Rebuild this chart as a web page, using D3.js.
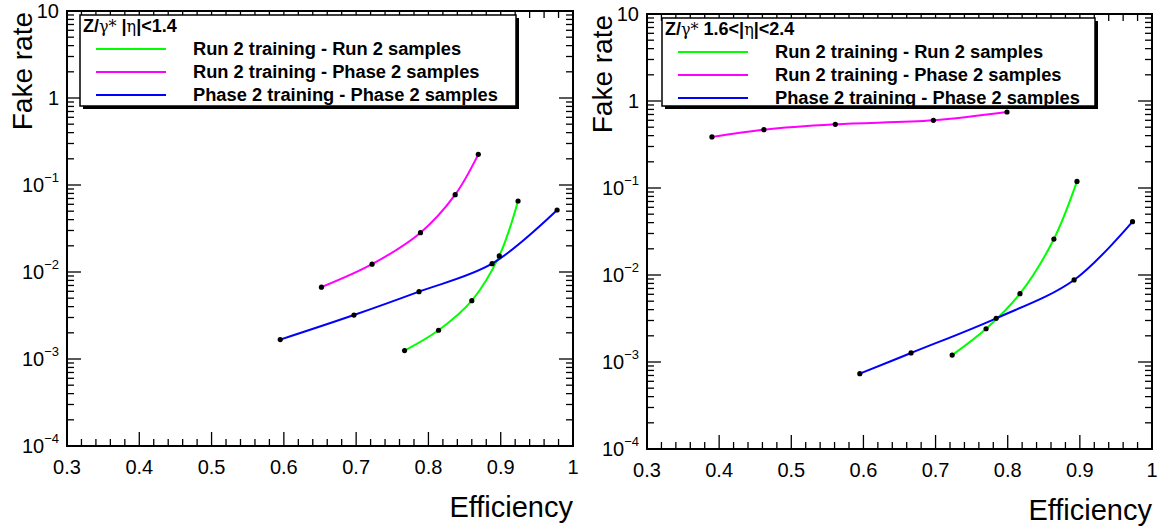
<!DOCTYPE html>
<html>
<head>
<meta charset="utf-8">
<script src="https://cdn.jsdelivr.net/npm/d3@7"></script>
<style>
  html, body { margin: 0; padding: 0; background: #fff; }
  svg { display: block; font-family: "Liberation Sans", Arial, Helvetica, sans-serif; }
</style>
</head>
<body>
<svg id="chart" width="1163" height="532"></svg>
<script>
// ---------- data ----------
const xTickValues = [0.3, 0.4, 0.5, 0.6, 0.7, 0.8, 0.9, 1.0];
const xTickLabels = ["0.3", "0.4", "0.5", "0.6", "0.7", "0.8", "0.9", "1"];
const yTickExponents = [-4, -3, -2, -1, 0, 1];
const xTitle = "Efficiency";
const yTitle = "Fake rate";

const seriesNames = [
  "Run 2 training - Run 2 samples",
  "Run 2 training - Phase 2 samples",
  "Phase 2 training - Phase 2 samples"
];
const seriesColors = ["#00ff00", "#ff00ff", "#0000ff"];

// Panel 1: |eta| < 1.4
const barrelRun2Run2Eff   = [0.767, 0.814, 0.860, 0.898, 0.924];
const barrelRun2Run2Fake  = [1.25e-3, 2.14e-3, 4.68e-3, 0.0153, 0.0655];
const barrelRun2Ph2Eff    = [0.652, 0.722, 0.789, 0.837, 0.869];
const barrelRun2Ph2Fake   = [6.7e-3, 0.0123, 0.0283, 0.0774, 0.225];
const barrelPh2Ph2Eff     = [0.595, 0.697, 0.787, 0.888, 0.978];
const barrelPh2Ph2Fake    = [1.67e-3, 3.2e-3, 5.94e-3, 0.01245, 0.0516];

// Panel 2: 1.6 < |eta| < 2.4
const endcapRun2Run2Eff   = [0.723, 0.770, 0.817, 0.864, 0.896];
const endcapRun2Run2Fake  = [1.2e-3, 2.41e-3, 6.1e-3, 0.0259, 0.119];
const endcapRun2Ph2Eff    = [0.390, 0.462, 0.561, 0.697, 0.799];
const endcapRun2Ph2Fake   = [0.386, 0.468, 0.540, 0.600, 0.747];
const endcapPh2Ph2Eff     = [0.595, 0.666, 0.784, 0.892, 0.973];
const endcapPh2Ph2Fake    = [7.34e-4, 1.27e-3, 3.18e-3, 8.77e-3, 0.041];

const headerLabels = [
  { pre: "Z/", gamma: "\u03B3*", mid: " |", eta: "\u03B7", post: "|<1.4" },
  { pre: "Z/", gamma: "\u03B3*", mid: "  1.6<|", eta: "\u03B7", post: "|<2.4" }
];

// ---------- layout ----------
const panels = [
  {
    box: { x0: 67, x1: 573, y0: 11, y1: 446 },
    legend: { x0: 80, x1: 516, y0: 15, y1: 106 },
    header: headerLabels[0],
    series: [
      [barrelRun2Run2Eff, barrelRun2Run2Fake],
      [barrelRun2Ph2Eff, barrelRun2Ph2Fake],
      [barrelPh2Ph2Eff, barrelPh2Ph2Fake]
    ]
  },
  {
    box: { x0: 647, x1: 1152, y0: 14, y1: 449 },
    legend: { x0: 662, x1: 1095, y0: 18, y1: 106 },
    header: headerLabels[1],
    series: [
      [endcapRun2Run2Eff, endcapRun2Run2Fake],
      [endcapRun2Ph2Eff, endcapRun2Ph2Fake],
      [endcapPh2Ph2Eff, endcapPh2Ph2Fake]
    ]
  }
];

const svg = d3.select("#chart");

panels.forEach((p) => {
  const b = p.box;
  const x = d3.scaleLinear().domain([0.3, 1.0]).range([b.x0, b.x1]);
  const y = d3.scaleLog().domain([1e-4, 10]).range([b.y1, b.y0]);
  const g = svg.append("g");

  // ticks
  const majorLen = 14, minorLen = 7;
  const xMinor = d3.range(0, 36).map(i => 0.3 + i * 0.02).filter(v => v <= 1.0001);
  const tickG = g.append("g").attr("stroke", "#000").attr("stroke-width", 1.3);
  xMinor.forEach(v => {
    const isMajor = Math.abs(Math.round(v * 10) - v * 10) < 1e-6;
    const len = isMajor ? majorLen : minorLen;
    const px = x(v);
    tickG.append("line").attr("x1", px).attr("x2", px).attr("y1", b.y1).attr("y2", b.y1 - len);
    tickG.append("line").attr("x1", px).attr("x2", px).attr("y1", b.y0).attr("y2", b.y0 + len);
  });
  const yMinor = [];
  yTickExponents.forEach(e => {
    if (e < 1) for (let m = 1; m <= 9; m++) yMinor.push({ v: m * Math.pow(10, e), major: m === 1 });
  });
  yMinor.push({ v: 10, major: true });
  yMinor.forEach(t => {
    const len = t.major ? majorLen : minorLen;
    const py = y(t.v);
    tickG.append("line").attr("x1", b.x0).attr("x2", b.x0 + len).attr("y1", py).attr("y2", py);
    tickG.append("line").attr("x1", b.x1).attr("x2", b.x1 - len).attr("y1", py).attr("y2", py);
  });

  // frame
  g.append("rect")
    .attr("x", b.x0).attr("y", b.y0)
    .attr("width", b.x1 - b.x0).attr("height", b.y1 - b.y0)
    .attr("fill", "none").attr("stroke", "#000").attr("stroke-width", 2);

  // x tick labels
  xTickValues.forEach((v, i) => {
    g.append("text")
      .attr("x", x(v)).attr("y", b.y1 + 28)
      .attr("text-anchor", "middle")
      .attr("font-size", 20)
      .text(xTickLabels[i]);
  });

  // y tick labels
  yTickExponents.forEach(e => {
    const py = y(Math.pow(10, e));
    const t = g.append("text")
      .attr("x", b.x0 - 8).attr("y", py + 7)
      .attr("text-anchor", "end")
      .attr("font-size", 20);
    if (e === 0) {
      t.text("1");
    } else if (e === 1) {
      t.text("10");
    } else {
      t.append("tspan").text("10");
      t.append("tspan").attr("dy", -10).attr("font-size", 13).text("\u2212" + Math.abs(e));
    }
  });

  // axis titles
  g.append("text")
    .attr("transform", `translate(${b.x0 - 35},${b.y0 + 1}) rotate(-90)`)
    .attr("text-anchor", "end")
    .attr("font-size", 28)
    .text(yTitle);
  g.append("text")
    .attr("x", b.x1).attr("y", b.y1 + 71)
    .attr("text-anchor", "end")
    .attr("font-size", 29)
    .text(xTitle);

  // curves
  const line = d3.line()
    .x(d => x(d[0])).y(d => y(d[1]))
    .curve(d3.curveCatmullRom.alpha(0.5));
  p.series.forEach((s, i) => {
    const pts = s[0].map((v, k) => [v, s[1][k]]);
    g.append("path")
      .attr("d", line(pts))
      .attr("fill", "none")
      .attr("stroke", seriesColors[i])
      .attr("stroke-width", 2);
  });
  p.series.forEach((s) => {
    const pts = s[0].map((v, k) => [v, s[1][k]]);
    g.selectAll(null).data(pts).enter().append("circle")
      .attr("cx", d => x(d[0])).attr("cy", d => y(d[1]))
      .attr("r", 2.6).attr("fill", "#000");
  });

  // legend
  const L = p.legend;
  g.append("rect")
    .attr("x", L.x0 + 3).attr("y", L.y0 + 3)
    .attr("width", L.x1 - L.x0).attr("height", L.y1 - L.y0)
    .attr("fill", "#000");
  g.append("rect")
    .attr("x", L.x0).attr("y", L.y0)
    .attr("width", L.x1 - L.x0).attr("height", L.y1 - L.y0)
    .attr("fill", "#fff").attr("stroke", "#000").attr("stroke-width", 1.5);

  const h = g.append("text")
    .attr("x", L.x0 + 3).attr("y", L.y0 + 17)
    .attr("font-size", 18).attr("font-weight", "bold");
  h.append("tspan").text(p.header.pre);
  h.append("tspan").attr("font-weight", "normal").attr("font-family", "'DejaVu Serif', serif").attr("font-size", 16).text(p.header.gamma);
  h.append("tspan").text(p.header.mid);
  h.append("tspan").attr("font-weight", "normal").attr("font-family", "'DejaVu Serif', serif").attr("font-size", 16).text(p.header.eta);
  h.append("tspan").text(p.header.post);

  const rowY = [L.y0 + 34, L.y0 + 57, L.y0 + 80];
  seriesNames.forEach((name, i) => {
    g.append("line")
      .attr("x1", L.x0 + 16).attr("x2", L.x0 + 86)
      .attr("y1", rowY[i]).attr("y2", rowY[i])
      .attr("stroke", seriesColors[i]).attr("stroke-width", 2);
    g.append("text")
      .attr("x", L.x0 + 113).attr("y", rowY[i] + 6)
      .attr("font-size", 18.3).attr("font-weight", "bold")
      .text(name);
  });
});
</script>
</body>
</html>
